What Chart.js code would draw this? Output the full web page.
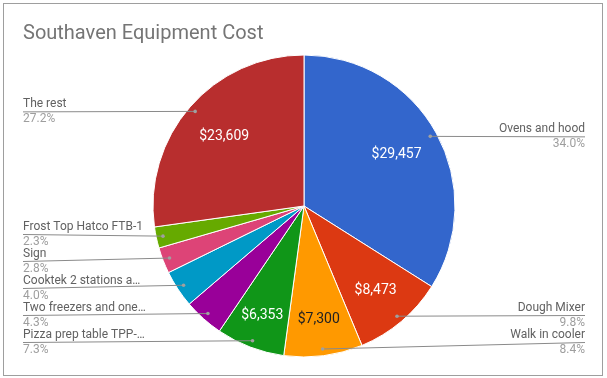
<!DOCTYPE html>
<html>
<head>
<meta charset="utf-8">
<script src="https://cdn.jsdelivr.net/npm/chart.js@4"></script>
<style>
  html, body { margin: 0; padding: 0; background: #fff; }
  #wrap { width: 607px; height: 378px; position: relative; }
</style>
</head>
<body>
<div id="wrap"><canvas id="pie"></canvas></div>
<script>
var chartTitle = "Southaven Equipment Cost";

var categories = [
  "Ovens and hood",
  "Dough Mixer",
  "Walk in cooler",
  "Pizza prep table TPP-…",
  "Two freezers and one…",
  "Cooktek 2 stations a…",
  "Sign",
  "Frost Top Hatco FTB-1",
  "The rest"
];
var costs = [29457, 8473, 7300, 6353, 3712, 3455, 2415, 1966, 23609];
var sliceColors = [
  "#3366cc", "#dc3912", "#ff9900", "#109618", "#990099",
  "#0099c6", "#dd4477", "#66aa00", "#b82e2e"
];
// dark text on the orange slice, white elsewhere
var valueColors = ["#fff", "#fff", "#222", "#fff", "#fff", "#fff", "#fff", "#fff", "#fff"];

var total = costs.reduce(function (a, b) { return a + b; }, 0);

function money(v) {
  return "$" + v.toLocaleString("en-US");
}

// spreads labels on one side so they don't overlap
function spread(items, gap, maxY) {
  items.sort(function (a, b) { return a.y - b.y; });
  for (var i = 1; i < items.length; i++) {
    if (items[i].y < items[i - 1].y + gap) items[i].y = items[i - 1].y + gap;
  }
  if (items.length && items[items.length - 1].y > maxY) {
    items[items.length - 1].y = maxY;
    for (var j = items.length - 2; j >= 0; j--) {
      if (items[j].y > items[j + 1].y - gap) items[j].y = items[j + 1].y - gap;
    }
  }
}

var labelsPlugin = {
  id: "sheetLabels",
  beforeDraw: function (chart) {
    var c = chart.ctx;
    c.save();
    c.strokeStyle = "#9e9e9e";
    c.lineWidth = 1;
    c.strokeRect(3.5, 3.5, 599, 372);
    c.fillStyle = "#757575";
    c.font = "20px Roboto";
    c.textBaseline = "alphabetic";
    c.textAlign = "left";
    c.fillText(chartTitle, 23, 39);
    c.restore();
  },
  afterDatasetsDraw: function (chart) {
    var c = chart.ctx;
    var arcs = chart.getDatasetMeta(0).data;
    var left = [], right = [];

    c.save();
    // values inside the slices
    c.font = "14px Roboto";
    c.textAlign = "center";
    c.textBaseline = "middle";
    arcs.forEach(function (arc, i) {
      var frac = costs[i] / total;
      var mid = (arc.startAngle + arc.endAngle) / 2;
      if (frac >= 0.05) {
        var f = 0.70 + Math.max(0, 0.12 - frac) * 1.6;
        var r = arc.outerRadius * f;
        c.fillStyle = valueColors[i];
        c.fillText(money(costs[i]), arc.x + Math.cos(mid) * r, arc.y + Math.sin(mid) * r);
      }
      var dr = arc.outerRadius * 0.955;
      var p = { i: i, px: arc.x + Math.cos(mid) * dr, py: arc.y + Math.sin(mid) * dr };
      p.y = p.py;
      if (Math.cos(mid) >= 0) right.push(p); else left.push(p);
    });

    spread(left, 27, 342);
    spread(right, 27, 342);

    function drawLabel(p, isLeft) {
      var tx = isLeft ? 23 : 585;
      c.strokeStyle = "#8a8a8a";
      c.lineWidth = 1;
      c.beginPath();
      c.moveTo(tx, p.y + 0.5);
      c.lineTo(p.px, p.py);
      c.stroke();
      c.fillStyle = "#a0a0a0";
      c.beginPath();
      c.arc(p.px, p.py, 1.8, 0, Math.PI * 2);
      c.fill();

      c.textAlign = isLeft ? "left" : "right";
      c.textBaseline = "middle";
      c.font = "12px Roboto";
      c.fillStyle = "#616161";
      c.fillText(categories[p.i], tx, p.y - 7.5);
      c.fillStyle = "#9e9e9e";
      c.fillText((costs[p.i] / total * 100).toFixed(1) + "%", tx, p.y + 7.5);
    }
    left.forEach(function (p) { drawLabel(p, true); });
    right.forEach(function (p) { drawLabel(p, false); });
    c.restore();
  }
};

new Chart(document.getElementById("pie"), {
  type: "pie",
  data: {
    labels: categories,
    datasets: [{
      data: costs,
      backgroundColor: sliceColors,
      borderColor: "#fff",
      borderWidth: 1
    }]
  },
  options: {
    responsive: true,
    maintainAspectRatio: false,
    animation: false,
    events: [],
    radius: 151,
    layout: { padding: { top: 50, bottom: 16, left: 150, right: 149 } },
    plugins: {
      legend: { display: false },
      title: { display: false },
      tooltip: { enabled: false }
    }
  },
  plugins: [labelsPlugin]
});
</script>
</body>
</html>
